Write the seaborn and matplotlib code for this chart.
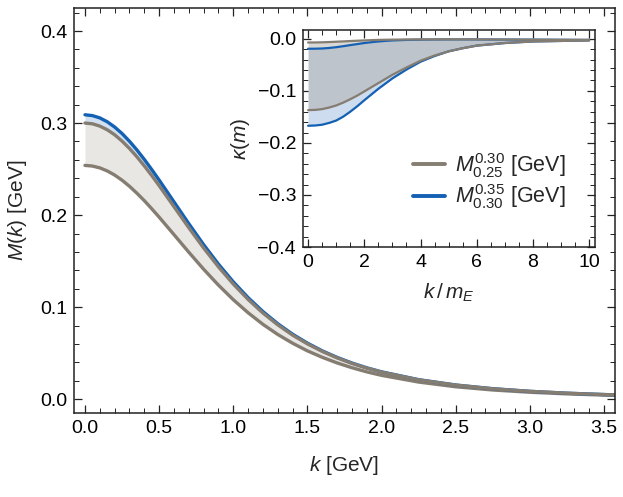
import numpy as np
import pandas as pd
import matplotlib
matplotlib.use("Agg")
import matplotlib.pyplot as plt
from matplotlib.ticker import MultipleLocator, FuncFormatter
from matplotlib.lines import Line2D
import seaborn as sns

# main panel: dynamical mass M(k) [GeV]
k = [0.0, 0.05, 0.1, 0.15, 0.2, 0.25, 0.3, 0.35, 0.4, 0.45, 0.5, 0.6, 0.7, 0.8, 0.9,
     1.0, 1.1, 1.2, 1.3, 1.4, 1.5, 1.6, 1.7, 1.8, 1.9, 2.0, 2.25, 2.5, 2.75, 3.0,
     3.25, 3.5, 3.6]
m_blue_up = [0.3090, 0.3081, 0.3056, 0.3014, 0.2957, 0.2886, 0.2802, 0.2708, 0.2605,
             0.2495, 0.2381, 0.2144, 0.1907, 0.1679, 0.1467, 0.1275, 0.1103, 0.0952,
             0.0820, 0.0706, 0.0609, 0.0525, 0.0454, 0.0393, 0.0341, 0.0297, 0.0212,
             0.0154, 0.0114, 0.00855, 0.00652, 0.00505, 0.00458]
m_gray_up = [0.3000, 0.2992, 0.2967, 0.2927, 0.2873, 0.2804, 0.2724, 0.2634, 0.2535,
             0.2430, 0.2320, 0.2092, 0.1863, 0.1643, 0.1438, 0.1251, 0.1084, 0.0936,
             0.0808, 0.0696, 0.0601, 0.0519, 0.0449, 0.0389, 0.0338, 0.0294, 0.0210,
             0.0153, 0.0113, 0.00851, 0.00650, 0.00503, 0.00456]
m_gray_lo = [0.2540, 0.2533, 0.2513, 0.2480, 0.2435, 0.2379, 0.2313, 0.2238, 0.2157,
             0.2069, 0.1978, 0.1788, 0.1597, 0.1412, 0.1239, 0.1081, 0.0939, 0.0813,
             0.0703, 0.0608, 0.0525, 0.0455, 0.0394, 0.0342, 0.0297, 0.0259, 0.0186,
             0.0135, 0.0100, 0.00756, 0.00578, 0.00448, 0.00407]

# inset: kappa(m) vs k/m_E
u = [0.0, 0.25, 0.5, 0.75, 1.0, 1.25, 1.5, 1.75, 2.0, 2.25, 2.5, 2.75, 3.0, 3.5, 4.0,
     4.5, 5.0, 5.5, 6.0, 7.0, 8.0, 9.0, 10.0]
kap_gray_up = [-0.0070, -0.0069, -0.0066, -0.0061, -0.0055, -0.0049, -0.0042, -0.0036,
               -0.0030, -0.0025, -0.0020, -0.0017, -0.0015, -0.0012, -0.0010, -0.0010,
               -0.0010, -0.0010, -0.0011, -0.0013, -0.0015, -0.0018, -0.0020]
kap_gray_lo = [-0.137, -0.1365, -0.135, -0.132, -0.128, -0.1225, -0.116, -0.109, -0.101,
               -0.093, -0.085, -0.077, -0.069, -0.055, -0.042, -0.032, -0.024, -0.018,
               -0.013, -0.008, -0.005, -0.004, -0.003]
kap_blue_up = [-0.0190, -0.0189, -0.0185, -0.0175, -0.0160, -0.0141, -0.0120, -0.0100,
               -0.0080, -0.0064, -0.0050, -0.0039, -0.0030, -0.0020, -0.0015, -0.0012,
               -0.0010, -0.0010, -0.0011, -0.0013, -0.0015, -0.0018, -0.0020]
kap_blue_lo = [-0.167, -0.1665, -0.165, -0.1615, -0.157, -0.1495, -0.140, -0.1295, -0.118,
               -0.107, -0.096, -0.086, -0.076, -0.059, -0.044, -0.033, -0.024, -0.018,
               -0.013, -0.008, -0.005, -0.004, -0.003]

legend_labels = [r"$M^{0.30}_{0.25}$ [GeV]", r"$M^{0.35}_{0.30}$ [GeV]"]

gray = "#857d72"
blue = "#1461b4"

sns.set_theme(style="ticks")
plt.rcParams["font.family"] = ["Liberation Sans", "DejaVu Sans"]
plt.rcParams["mathtext.fontset"] = "custom"
plt.rcParams["mathtext.rm"] = "Liberation Sans"
plt.rcParams["mathtext.it"] = "Liberation Sans:italic"
plt.rcParams["mathtext.bf"] = "Liberation Sans:bold"
plt.rcParams["lines.solid_joinstyle"] = "round"

main = pd.DataFrame({"k": k, "blue_up": m_blue_up, "gray_up": m_gray_up, "gray_lo": m_gray_lo})
ins = pd.DataFrame({"u": u, "gu": kap_gray_up, "gl": kap_gray_lo, "bu": kap_blue_up, "bl": kap_blue_lo})

fig = plt.figure(figsize=(6.23, 4.97), dpi=100)
ax = fig.add_axes([0.1188, 0.1690, 0.8684, 0.8149])

fmt1 = FuncFormatter(lambda v, p: f"{v:.1f}".replace("-", "\u2212"))


def style_axis(a, xmaj, xmin, ymaj, ymin, fs):
    a.xaxis.set_major_locator(MultipleLocator(xmaj))
    a.xaxis.set_minor_locator(MultipleLocator(xmin))
    a.yaxis.set_major_locator(MultipleLocator(ymaj))
    a.yaxis.set_minor_locator(MultipleLocator(ymin))
    a.tick_params(which="both", direction="in", top=True, right=True,
                  colors="#222222", labelcolor="black", labelsize=fs)
    a.tick_params(which="major", length=6, width=0.9, pad=5)
    a.tick_params(which="minor", length=3.5, width=0.7)
    for s in a.spines.values():
        s.set_linewidth(1.1)
        s.set_color("#222222")


# main bands
ax.fill_between(main["k"], main["gray_up"], main["blue_up"], color="#d2e1f1", lw=0)
ax.fill_between(main["k"], main["gray_lo"], main["gray_up"], color="#e8e7e4", lw=0)
sns.lineplot(data=main, x="k", y="gray_lo", ax=ax, color=gray, lw=2.4)
sns.lineplot(data=main, x="k", y="blue_up", ax=ax, color=blue, lw=2.4)
sns.lineplot(data=main, x="k", y="gray_up", ax=ax, color=gray, lw=2.4)

ax.set_xlim(-0.074, 3.574)
ax.set_ylim(-0.015, 0.425)
style_axis(ax, 0.5, 0.1, 0.1, 0.02, 14)
ax.xaxis.set_major_formatter(fmt1)
ax.yaxis.set_major_formatter(fmt1)
ax.set_xlabel(r"$k$ [GeV]", fontsize=15, labelpad=12)
ax.set_ylabel(r"$M(k)$ [GeV]", fontsize=15, labelpad=8)

# inset
axi = fig.add_axes([0.4864, 0.5030, 0.4687, 0.4366])
axi.fill_between(ins["u"], ins["bl"], ins["bu"], color="#cddcee", lw=0)
axi.fill_between(ins["u"], ins["gl"], ins["gu"], color="#a9a49d", alpha=0.42, lw=0)
sns.lineplot(data=ins, x="u", y="bu", ax=axi, color=blue, lw=1.6)
sns.lineplot(data=ins, x="u", y="bl", ax=axi, color=blue, lw=1.6)
sns.lineplot(data=ins, x="u", y="gu", ax=axi, color=gray, lw=1.6)
sns.lineplot(data=ins, x="u", y="gl", ax=axi, color=gray, lw=1.6)

axi.set_xlim(-0.18, 10.21)
axi.set_ylim(-0.4, 0.017)
style_axis(axi, 2, 0.5, 0.1, 0.02, 14)
axi.yaxis.set_major_formatter(fmt1)
axi.set_xlabel(r"$k\,/\,m_E$", fontsize=15, labelpad=8)
axi.set_ylabel(r"$\kappa(m)$", fontsize=15, labelpad=4)

handles = [Line2D([], [], color=gray, lw=2.8), Line2D([], [], color=blue, lw=2.8)]
axi.legend(handles, legend_labels, loc="center left", bbox_to_anchor=(0.377, 0.304),
           frameon=False, fontsize=15.5, handlelength=1.5, handletextpad=0.45,
           labelspacing=0.12, borderpad=0, borderaxespad=0)

fig.savefig("out.png", dpi=100)
